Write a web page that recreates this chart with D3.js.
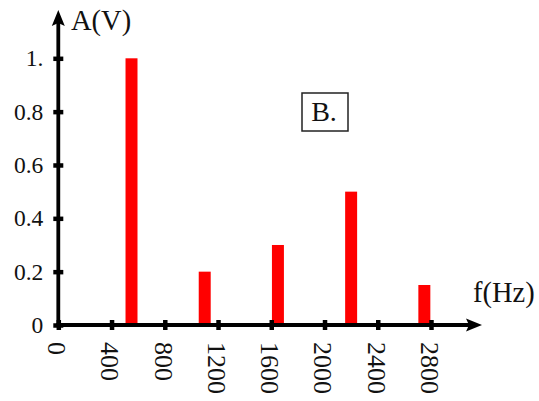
<!DOCTYPE html>
<html>
<head>
<meta charset="utf-8">
<script src="https://cdn.jsdelivr.net/npm/d3@7"></script>
<style>
  html, body { margin: 0; padding: 0; background: #fff; }
  svg { display: block; }
  svg text { font-family: "Liberation Serif", "DejaVu Serif", serif !important; fill: #111; }
</style>
</head>
<body>
<div id="chart"></div>
<script>
// ---- data ----
const frequencies = [550, 1100, 1650, 2200, 2750];
const amplitudes  = [1.0, 0.2, 0.3, 0.5, 0.15];
const xTickValues = [0, 400, 800, 1200, 1600, 2000, 2400, 2800];
const yTickValues = [0, 0.2, 0.4, 0.6, 0.8, 1.0];
const yTickLabels = ["0", "0.2", "0.4", "0.6", "0.8", "1."];
const xAxisTitle = "f(Hz)";
const yAxisTitle = "A(V)";
const panelLabel = "B.";

// ---- layout ----
const W = 539, H = 401;
const svg = d3.select("#chart").append("svg").attr("width", W).attr("height", H);

const x = d3.scaleLinear().domain([0, 2800]).range([58.3, 431]);
const y = d3.scaleLinear().domain([0, 1]).range([325, 58.3]);
const barHalf = 45; // Hz

// bars
svg.append("g").selectAll("rect")
  .data(frequencies.map((f, i) => ({ f, a: amplitudes[i] })))
  .join("rect")
  .attr("x", d => x(d.f - barHalf))
  .attr("width", d => x(d.f + barHalf) - x(d.f - barHalf))
  .attr("y", d => y(d.a))
  .attr("height", d => y(0) - y(d.a))
  .attr("fill", "#ff0000");

// axes lines
const axisG = svg.append("g");
const x0 = x(0), y0 = y(0);
const yTop = 10, xRight = 482;
axisG.append("line").attr("x1", x0).attr("y1", y0 + 2).attr("x2", x0).attr("y2", yTop + 10)
  .attr("stroke", "#000").attr("stroke-width", 3.8);
axisG.append("line").attr("x1", x0 - 2).attr("y1", y0).attr("x2", xRight - 10).attr("y2", y0)
  .attr("stroke", "#000").attr("stroke-width", 3.8);
// arrowheads
const L = 16, Hw = 6.5, notch = 3;
axisG.append("path")
  .attr("d", `M${x0},${yTop} L${x0 + Hw},${yTop + L} L${x0},${yTop + L - notch} L${x0 - Hw},${yTop + L} Z`)
  .attr("fill", "#000");
axisG.append("path")
  .attr("d", `M${xRight},${y0} L${xRight - L},${y0 - Hw} L${xRight - L + notch},${y0} L${xRight - L},${y0 + Hw} Z`)
  .attr("fill", "#000");

const serif = '"Liberation Serif", "DejaVu Serif", serif';

// y ticks via d3 axis
const yAxis = d3.axisLeft(y).tickValues(yTickValues)
  .tickFormat((d, i) => yTickLabels[i]).tickSizeInner(0).tickSizeOuter(0).tickPadding(15);
const gy = svg.append("g").attr("transform", `translate(${x0},0)`).call(yAxis)
  .attr("font-family", null).attr("font-size", null);
gy.select(".domain").remove();
gy.selectAll(".tick line").remove();
gy.selectAll(".tick").append("line")
  .attr("x1", -5).attr("x2", 5).attr("stroke", "#000").attr("stroke-width", 4.5);
gy.selectAll(".tick text").style("font-size", "23.5px").style("font-family", serif)
  .attr("fill", "#111");

// x ticks via d3 axis
const xAxis = d3.axisBottom(x).tickValues(xTickValues)
  .tickFormat(d3.format("d")).tickSizeInner(0).tickSizeOuter(0);
const gx = svg.append("g").attr("transform", `translate(0,${y0})`).call(xAxis)
  .attr("font-family", null).attr("font-size", null);
gx.select(".domain").remove();
gx.selectAll(".tick line").remove();
gx.selectAll(".tick").append("line")
  .attr("y1", -5).attr("y2", 5).attr("stroke", "#000").attr("stroke-width", 4.5);
gx.selectAll(".tick text")
  .style("font-size", "26px").style("font-family", serif).attr("fill", "#111")
  .attr("text-anchor", "start")
  .attr("transform", "translate(-2,17) rotate(90)")
  .attr("x", 0).attr("y", 0).attr("dy", "0.33em");

// axis titles
svg.append("text").attr("x", 71).attr("y", 30).style("font-size", "28.5px").text(yAxisTitle);
svg.append("text").attr("x", 473).attr("y", 302).style("font-size", "28.5px").text(xAxisTitle);

// panel label box
svg.append("rect").attr("x", 302).attr("y", 93).attr("width", 46).attr("height", 38)
  .attr("fill", "none").attr("stroke", "#222").attr("stroke-width", 1.5);
svg.append("text").attr("x", 324).attr("y", 121).style("font-size", "28px")
  .attr("text-anchor", "middle").text(panelLabel);
</script>
</body>
</html>
